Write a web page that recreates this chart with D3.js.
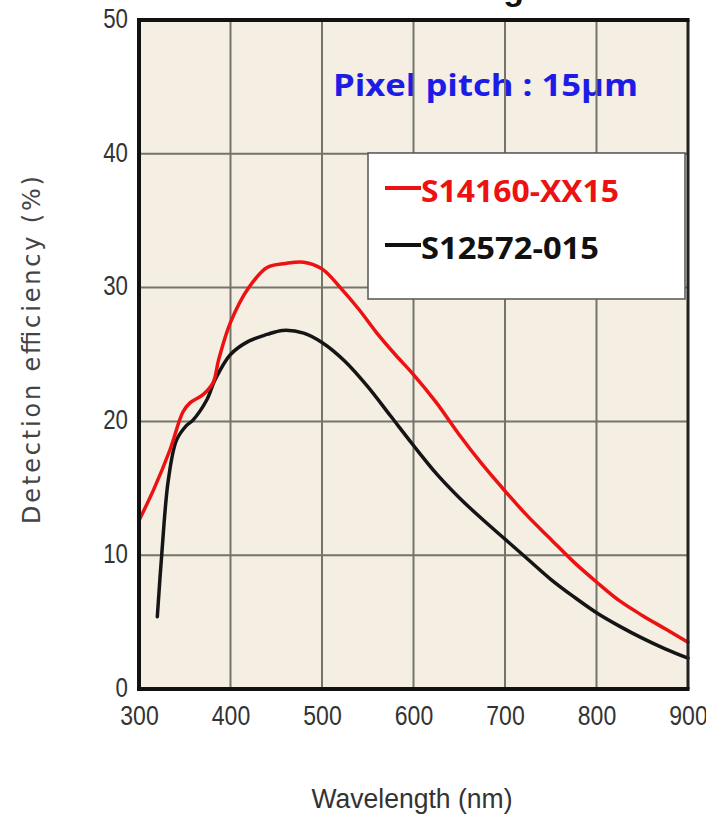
<!DOCTYPE html>
<html>
<head>
<meta charset="utf-8">
<script src="https://cdn.jsdelivr.net/npm/d3@7"></script>
<style>
  html, body { margin: 0; padding: 0; background: #ffffff; }
  svg { display: block; }
</style>
</head>
<body>
<svg id="chart" width="706" height="814"></svg>
<script>
// ---- data ----
const redName = "S14160-XX15";
const redWavelength = [300, 316, 334, 348, 356, 370, 381, 387, 400, 420, 440, 460, 480, 500, 520, 540, 560, 580, 600, 625, 650, 675, 700, 725, 750, 775, 800, 825, 850, 875, 900];
const redPDE        = [12.6, 14.9, 17.9, 20.7, 21.4, 22.0, 22.9, 24.6, 27.4, 30.0, 31.5, 31.8, 31.9, 31.4, 30.0, 28.4, 26.6, 25.0, 23.5, 21.4, 19.0, 16.8, 14.8, 12.9, 11.2, 9.5, 8.0, 6.6, 5.5, 4.5, 3.5];

const blackName = "S12572-015";
const blackWavelength = [320, 325, 332, 341, 352, 359, 374, 383, 400, 420, 440, 457, 480, 500, 525, 550, 575, 600, 625, 650, 675, 700, 725, 750, 775, 800, 825, 850, 875, 900];
const blackPDE        = [5.4, 10.2, 15.6, 18.6, 19.7, 20.1, 21.6, 23.1, 25.0, 26.0, 26.5, 26.8, 26.6, 25.9, 24.5, 22.6, 20.4, 18.2, 16.1, 14.3, 12.7, 11.2, 9.7, 8.2, 6.9, 5.7, 4.7, 3.8, 3.0, 2.3];

const xTicks = [300, 400, 500, 600, 700, 800, 900];
const yTicks = [0, 10, 20, 30, 40, 50];

const titleText = "PDE vs. Wavelength";
const noteText = "Pixel pitch : 15\u03BCm";
const xLabel = "Wavelength (nm)";
const yLabel = "Detection efficiency (%)";

// ---- layout ----
const svg = d3.select("#chart");
const x = d3.scaleLinear().domain([300, 900]).range([139, 688]);
const y = d3.scaleLinear().domain([0, 50]).range([689, 20]);

// title (cut off at top)
svg.append("text")
  .attr("x", 556).attr("y", 0)
  .attr("text-anchor", "end")
  .attr("font-family", "Liberation Sans, Arial, sans-serif")
  .attr("font-weight", "bold")
  .attr("font-size", 34)
  .attr("fill", "#111")
  .text(titleText);

// plot background
svg.append("rect")
  .attr("x", x(300)).attr("y", y(50))
  .attr("width", x(900) - x(300)).attr("height", y(0) - y(50))
  .attr("fill", "#f4eee3");

// note text (beneath grid)
svg.append("text")
  .attr("x", 333).attr("y", 96)
  .attr("font-family", "Open Sans, Noto Sans, sans-serif")
  .attr("font-weight", "bold")
  .attr("font-size", 31)
  .attr("textLength", 305)
  .attr("lengthAdjust", "spacingAndGlyphs")
  .attr("fill", "#1c1ce6")
  .text(noteText);

// grid
const grid = svg.append("g");
grid.selectAll("line.vx").data(xTicks.slice(1, -1)).join("line")
  .attr("x1", d => x(d)).attr("x2", d => x(d))
  .attr("y1", y(50)).attr("y2", y(0))
  .attr("stroke", "#74746a").attr("stroke-width", 2);
grid.selectAll("line.hy").data(yTicks.slice(1, -1)).join("line")
  .attr("x1", x(300)).attr("x2", x(900))
  .attr("y1", d => y(d)).attr("y2", d => y(d))
  .attr("stroke", "#74746a").attr("stroke-width", 2);

// legend box
const lg = svg.append("g");
lg.append("rect")
  .attr("x", 368).attr("y", 153).attr("width", 317).attr("height", 146)
  .attr("fill", "#ffffff").attr("stroke", "#555").attr("stroke-width", 1.5);
const legendItems = [
  { name: redName, color: "#ee1111", yb: 202, w: 198 },
  { name: blackName, color: "#111111", yb: 259, w: 178 }
];
legendItems.forEach(it => {
  lg.append("line")
    .attr("x1", 385).attr("x2", 421)
    .attr("y1", it.yb - 14).attr("y2", it.yb - 14)
    .attr("stroke", it.color).attr("stroke-width", 4);
  lg.append("text")
    .attr("x", 421).attr("y", it.yb)
    .attr("font-family", "Open Sans, Noto Sans, sans-serif")
    .attr("font-weight", "bold")
    .attr("font-size", 31)
    .attr("textLength", it.w)
    .attr("lengthAdjust", "spacingAndGlyphs")
    .attr("fill", it.color)
    .text(it.name);
});

// curves
const line = d3.line()
  .x(d => x(d[0])).y(d => y(d[1]))
  .curve(d3.curveCatmullRom.alpha(0.5));

svg.append("path")
  .datum(blackWavelength.map((w, i) => [w, blackPDE[i]]))
  .attr("d", line)
  .attr("fill", "none").attr("stroke", "#151515").attr("stroke-width", 3.5)
  .attr("stroke-linejoin", "round").attr("stroke-linecap", "round");

svg.append("path")
  .datum(redWavelength.map((w, i) => [w, redPDE[i]]))
  .attr("d", line)
  .attr("fill", "none").attr("stroke", "#ee1111").attr("stroke-width", 3.5)
  .attr("stroke-linejoin", "round").attr("stroke-linecap", "round");

// frame
svg.append("line").attr("x1", x(900)).attr("x2", x(900)).attr("y1", y(50)).attr("y2", y(0))
  .attr("stroke", "#222").attr("stroke-width", 3);
svg.append("line").attr("x1", x(300) - 2).attr("x2", x(900) + 1.5).attr("y1", y(50)).attr("y2", y(50))
  .attr("stroke", "#111").attr("stroke-width", 4);

// axes
const tickFont = "Liberation Sans Narrow, Liberation Sans, Arial, sans-serif";
const xAxis = d3.axisBottom(x).tickValues(xTicks).tickSize(0).tickPadding(17).tickFormat(d3.format("d"));
const yAxis = d3.axisLeft(y).tickValues(yTicks).tickSize(0).tickPadding(11).tickFormat(d3.format("d"));

const gx = svg.append("g").attr("transform", `translate(0,${y(0)})`).call(xAxis);
gx.select(".domain").attr("stroke", "#111").attr("stroke-width", 4)
  .attr("d", `M${x(300) - 2},0H${x(900) + 1.5}`);
gx.selectAll("text")
  .attr("font-family", tickFont)
  .attr("font-size", 27).attr("fill", "#333")
  .attr("textLength", d => String(d).length * 12.8)
  .attr("lengthAdjust", "spacingAndGlyphs");

const gy = svg.append("g").attr("transform", `translate(${x(300)},0)`).call(yAxis);
gy.select(".domain").attr("stroke", "#111").attr("stroke-width", 4)
  .attr("d", `M0,${y(50) - 2}V${y(0) + 2}`);
gy.selectAll("text")
  .attr("font-family", tickFont)
  .attr("font-size", 27).attr("fill", "#333")
  .attr("dy", "0.27em")
  .attr("textLength", d => String(d).length * 12.4)
  .attr("lengthAdjust", "spacingAndGlyphs");

// axis labels
svg.append("text")
  .attr("x", 412).attr("y", 808)
  .attr("text-anchor", "middle")
  .attr("font-family", "Liberation Sans, Arial, sans-serif")
  .attr("font-size", 27)
  .attr("textLength", 201).attr("lengthAdjust", "spacingAndGlyphs")
  .attr("fill", "#333")
  .text(xLabel);

svg.append("text")
  .attr("transform", `translate(40,350) rotate(-90)`)
  .attr("text-anchor", "middle")
  .attr("font-family", "DejaVu Sans, Liberation Sans, sans-serif")
  .attr("font-size", 24)
  .attr("textLength", 348).attr("lengthAdjust", "spacing")
  .attr("fill", "#444")
  .text(yLabel);
</script>
</body>
</html>
